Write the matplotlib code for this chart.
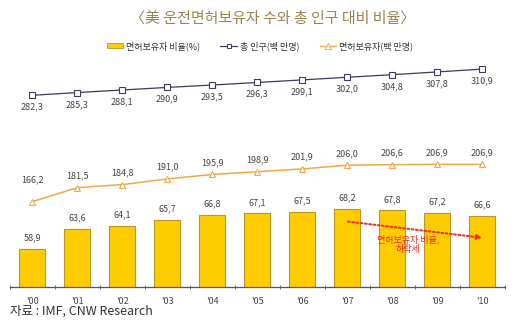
import matplotlib
matplotlib.use('Agg')
import matplotlib.pyplot as plt
from matplotlib.lines import Line2D
from matplotlib.patches import Patch

plt.rcParams['font.family'] = ['Noto Sans CJK KR', 'DejaVu Sans']

years = ["'00", "'01", "'02", "'03", "'04", "'05", "'06", "'07", "'08", "'09", "'10"]
ratio = [58.9, 63.6, 64.1, 65.7, 66.8, 67.1, 67.5, 68.2, 67.8, 67.2, 66.6]
total_pop = [282.3, 285.3, 288.1, 290.9, 293.5, 296.3, 299.1, 302.0, 304.8, 307.8, 310.9]
drivers = [166.2, 181.5, 184.8, 191.0, 195.9, 198.9, 201.9, 206.0, 206.6, 206.9, 206.9]

bar_color = '#FFCC00'
bar_edge = '#B8962A'
pop_color = '#3A3A66'
drv_color = '#F0A848'
txt_color = '#444444'

def fmt(v):
    return f"{v:.1f}".replace('.', ',')

fig = plt.figure(figsize=(5.2, 3.28), dpi=100)
ax = fig.add_axes([0.019, 0.125, 0.952, 0.692])
x = list(range(len(years)))

# bars: ratio (%)
ax.bar(x, ratio, width=0.58, color=bar_color, edgecolor=bar_edge, linewidth=0.8, zorder=2)
ax.set_ylim(50, 102.8)
ax.set_xlim(-0.5, 10.5)
for i, v in enumerate(ratio):
    ax.annotate(fmt(v), (i, v), xytext=(0, 8), textcoords='offset points',
                ha='center', va='center', fontsize=6.5, color=txt_color)

for s in ['top', 'right', 'left']:
    ax.spines[s].set_visible(False)
ax.spines['bottom'].set_color('#555555')
ax.spines['bottom'].set_linewidth(0.9)
ax.set_yticks([])
ax.set_xticks(x)
ax.set_xticklabels(years, fontsize=6.5, color=txt_color)
ax.tick_params(axis='x', which='major', length=0, pad=7)
ax.set_xticks([i + 0.5 for i in range(-1, 11)], minor=True)
ax.tick_params(axis='x', which='minor', length=3, direction='inout', color='#555555')

# red trend arrow
ax.annotate('', xy=(10.05, 61.4), xytext=(6.95, 65.3),
            arrowprops=dict(arrowstyle='-|>', color='#F02A1E', linestyle=(0, (1, 1.2)),
                            lw=1.4, mutation_scale=7))
ax.text(8.35, 60.0, '면허보유자 비율,\n하락세', ha='center', va='center', fontsize=6.5,
        color='#F02A1E', linespacing=1.1, fontweight='medium')

# lines on second scale
ax2 = ax.twinx()
ax2.set_ylim(73.0, 320.8)
ax2.axis('off')
ax2.plot(x, total_pop, color=pop_color, lw=0.9, marker='s', markersize=4,
         markerfacecolor='white', markeredgecolor=pop_color, markeredgewidth=0.8)
ax2.plot(x, drivers, color=drv_color, lw=1.1, marker='^', markersize=5,
         markerfacecolor='white', markeredgecolor=drv_color, markeredgewidth=0.8)
for i, v in enumerate(total_pop):
    ax2.annotate(fmt(v), (i, v), xytext=(0, -8.5), textcoords='offset points',
                 ha='center', va='center', fontsize=6.5, color=txt_color)
for i, v in enumerate(drivers):
    off = 16 if i == 0 else 8.5
    ax2.annotate(fmt(v), (i, v), xytext=(0, off), textcoords='offset points',
                 ha='center', va='center', fontsize=6.5, color=txt_color)

fig.text(0.524, 0.945, '〈美 운전면허보유자 수와 총 인구 대비 비율〉', ha='center', va='center',
         fontsize=10.8, color='#A0804E')

handles = [
    Patch(facecolor=bar_color, edgecolor=bar_edge, linewidth=0.6),
    Line2D([], [], color=pop_color, lw=0.9, marker='s', markersize=3.5,
           markerfacecolor='white', markeredgecolor=pop_color, markeredgewidth=0.7),
    Line2D([], [], color=drv_color, lw=1.0, marker='^', markersize=4,
           markerfacecolor='white', markeredgecolor=drv_color, markeredgewidth=0.7),
]
labels = ['면허보유자 비율(%)', '총 인구(백 만명)', '면허보유자(백 만명)']
fig.legend(handles, labels, loc='center', bbox_to_anchor=(0.5, 0.86), ncol=3, frameon=False,
           fontsize=6.5, handlelength=1.8, handleheight=0.35, columnspacing=2.2,
           handletextpad=0.4, labelcolor='#333333')

fig.text(0.019, 0.05, '자료 : IMF, CNW Research', ha='left', va='center', fontsize=9,
         color='#333333')

fig.savefig('out.png', dpi=100)
